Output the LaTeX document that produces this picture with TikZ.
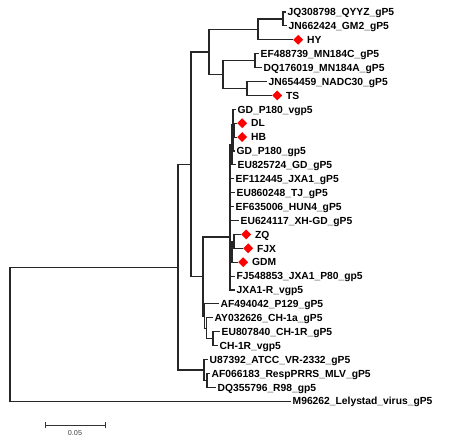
\documentclass[tikz,border=0pt]{standalone}
\usepackage{fontspec}
\setmainfont{Liberation Sans}
\usetikzlibrary{shapes.geometric}
\begin{document}
\begin{tikzpicture}[x=1pt,y=-1pt,
  br/.style={line width=1.1pt, draw=black!85},
  lab/.style={anchor=west, font=\bfseries\fontsize{10.3}{12}\selectfont, inner sep=1.5pt, text height=7.4pt, text depth=0pt},
  dia/.style={diamond, fill=red, inner sep=0pt, minimum width=10pt, minimum height=10pt, anchor=west},
  scalelab/.style={font=\fontsize{7.2}{8}\selectfont, text=black!75, inner sep=0pt}]
\useasboundingbox (0,0) rectangle (450,440);
% leaf tips
\coordinate (t1) at (286,12.0);
\coordinate (t2) at (287,25.9);
\coordinate (t3) at (293,39.8);
\coordinate (t4) at (259,53.7);
\coordinate (t5) at (262,67.6);
\coordinate (t6) at (267,81.5);
\coordinate (t7) at (272,95.4);
\coordinate (t8) at (236,109.3);
\coordinate (t9) at (237,123.2);
\coordinate (t10) at (237,137.1);
\coordinate (t11) at (235,151.0);
\coordinate (t12) at (236,164.9);
\coordinate (t13) at (234,178.8);
\coordinate (t14) at (235,192.7);
\coordinate (t15) at (234,206.6);
\coordinate (t16) at (239,220.5);
\coordinate (t17) at (241,234.4);
\coordinate (t18) at (243,248.3);
\coordinate (t19) at (238,262.2);
\coordinate (t20) at (235,276.1);
\coordinate (t21) at (235,290.0);
\coordinate (t22) at (219,303.9);
\coordinate (t23) at (213,317.8);
\coordinate (t24) at (220,331.7);
\coordinate (t25) at (218,345.6);
\coordinate (t26) at (208,359.5);
\coordinate (t27) at (210,373.4);
\coordinate (t28) at (216,387.3);
\coordinate (t29) at (291,401.2);
% internal nodes
\coordinate (n12) at (283,19.0);
\coordinate (nHY) at (258,29.4);
\coordinate (n45) at (255,60.6);
\coordinate (n67) at (247,88.5);
\coordinate (nL) at (223,74.6);
\coordinate (nA) at (209,52.0);
\coordinate (nDLHB) at (234,130.2);
\coordinate (nG0) at (233.5,140.6);
\coordinate (nG1) at (233,125.0);
\coordinate (nG2) at (232,145.0);
\coordinate (nZF) at (234,241.4);
\coordinate (nZG) at (232,251.8);
\coordinate (nE) at (230,237.0);
\coordinate (nCH) at (213,338.7);
\coordinate (nQ) at (206.5,328.2);
\coordinate (nP) at (204.5,316.0);
\coordinate (nD) at (203,276.5);
\coordinate (nB) at (191,164.3);
\coordinate (nS) at (207,380.4);
\coordinate (nR) at (204,370.0);
\coordinate (nC) at (178,267.1);
\coordinate (root) at (10,334.0);
% branches
\draw[br] (n12) |- (t1); \draw[br] (n12) |- (t2);
\draw[br] (nHY) |- (n12); \draw[br] (nHY) |- (t3);
\draw[br] (n45) |- (t4); \draw[br] (n45) |- (t5);
\draw[br] (n67) |- (t6); \draw[br] (n67) |- (t7);
\draw[br] (nL) |- (n45); \draw[br] (nL) |- (n67);
\draw[br] (nA) |- (nHY); \draw[br] (nA) |- (nL);
\draw[br] (nDLHB) |- (t9); \draw[br] (nDLHB) |- (t10);
\draw[br] (nG0) |- (nDLHB); \draw[br] (nG0) |- (t11);
\draw[br] (nG1) |- (t8); \draw[br] (nG1) |- (nG0);
\draw[br] (nG2) |- (nG1); \draw[br] (nG2) |- (t12);
\draw[br] (nZF) |- (t17); \draw[br] (nZF) |- (t18);
\draw[br] (nZG) |- (nZF); \draw[br] (nZG) |- (t19);
\draw[br] (nE) |- (nG2); \draw[br] (nE) |- (t13); \draw[br] (nE) |- (t14);
\draw[br] (nE) |- (t15); \draw[br] (nE) |- (t16); \draw[br] (nE) |- (nZG);
\draw[br] (nE) |- (t20); \draw[br] (nE) |- (t21);
\draw[br] (nCH) |- (t24); \draw[br] (nCH) |- (t25);
\draw[br] (nQ) |- (t23); \draw[br] (nQ) |- (nCH);
\draw[br] (nP) |- (t22); \draw[br] (nP) |- (nQ);
\draw[br] (nD) |- (nE); \draw[br] (nD) |- (nP);
\draw[br] (nB) |- (nA); \draw[br] (nB) |- (nD);
\draw[br] (nS) |- (t27); \draw[br] (nS) |- (t28);
\draw[br] (nR) |- (t26); \draw[br] (nR) |- (nS);
\draw[br] (nC) |- (nB); \draw[br] (nC) |- (nR);
\draw[br] (root) |- (nC); \draw[br] (root) |- (t29);
% labels
\node[lab] (l1) at (t1) {JQ308798\_QYYZ\_gP5};
\node[lab] (l2) at (t2) {JN662424\_GM2\_gP5};
\node[dia] (d3) at (t3) {}; \node[lab] (l3) at ([xshift=2pt]d3.east) {HY};
\node[lab] (l4) at (t4) {EF488739\_MN184C\_gP5};
\node[lab] (l5) at (t5) {DQ176019\_MN184A\_gP5};
\node[lab] (l6) at (t6) {JN654459\_NADC30\_gP5};
\node[dia] (d7) at (t7) {}; \node[lab] (l7) at ([xshift=2pt]d7.east) {TS};
\node[lab] (l8) at (t8) {GD\_P180\_vgp5};
\node[dia] (d9) at (t9) {}; \node[lab] (l9) at ([xshift=2pt]d9.east) {DL};
\node[dia] (d10) at (t10) {}; \node[lab] (l10) at ([xshift=2pt]d10.east) {HB};
\node[lab] (l11) at (t11) {GD\_P180\_gp5};
\node[lab] (l12) at (t12) {EU825724\_GD\_gP5};
\node[lab] (l13) at (t13) {EF112445\_JXA1\_gP5};
\node[lab] (l14) at (t14) {EU860248\_TJ\_gP5};
\node[lab] (l15) at (t15) {EF635006\_HUN4\_gP5};
\node[lab] (l16) at (t16) {EU624117\_XH-GD\_gP5};
\node[dia] (d17) at (t17) {}; \node[lab] (l17) at ([xshift=2pt]d17.east) {ZQ};
\node[dia] (d18) at (t18) {}; \node[lab] (l18) at ([xshift=2pt]d18.east) {FJX};
\node[dia] (d19) at (t19) {}; \node[lab] (l19) at ([xshift=2pt]d19.east) {GDM};
\node[lab] (l20) at (t20) {FJ548853\_JXA1\_P80\_gp5};
\node[lab] (l21) at (t21) {JXA1-R\_vgp5};
\node[lab] (l22) at (t22) {AF494042\_P129\_gP5};
\node[lab] (l23) at (t23) {AY032626\_CH-1a\_gP5};
\node[lab] (l24) at (t24) {EU807840\_CH-1R\_gP5};
\node[lab] (l25) at (t25) {CH-1R\_vgp5};
\node[lab] (l26) at (t26) {U87392\_ATCC\_VR-2332\_gP5};
\node[lab] (l27) at (t27) {AF066183\_RespPRRS\_MLV\_gP5};
\node[lab] (l28) at (t28) {DQ355796\_R98\_gp5};
\node[lab] (l29) at (t29) {M96262\_Lelystad\_virus\_gP5};
% scale bar
\coordinate (sb1) at (45,425);
\coordinate (sb2) at (105,425);
\draw[line width=1pt, draw=black!80] (sb1) -- (sb2);
\draw[line width=1pt, draw=black!80] ([yshift=-3pt]sb1) -- ([yshift=3pt]sb1);
\draw[line width=1pt, draw=black!80] ([yshift=-3pt]sb2) -- ([yshift=3pt]sb2);
\node[scalelab] (sbl) at (75,433) {0.05};
\end{tikzpicture}
\end{document}
